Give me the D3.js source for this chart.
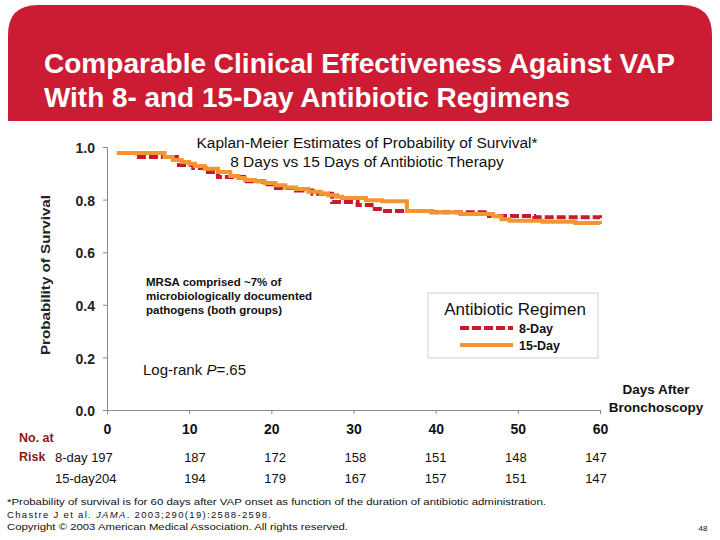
<!DOCTYPE html>
<html><head><meta charset="utf-8">
<script src="https://cdn.jsdelivr.net/npm/d3@7"></script>
<style>body{margin:0;background:#fff}svg{display:block;font-family:"Liberation Sans",Arial,sans-serif}</style>
</head><body><svg id="c" width="720" height="540"></svg>
<script>
// ---- data ----
const titleLines = ["Comparable Clinical Effectiveness Against VAP", "With 8- and 15-Day Antibiotic Regimens"];
const chartTitle = ["Kaplan-Meier Estimates of Probability of Survival*", "8 Days vs 15 Days of Antibiotic Therapy"];
const yTicks = [0, 0.2, 0.4, 0.6, 0.8, 1.0];
const xTicks = [0, 10, 20, 30, 40, 50, 60];
const seriesNames = ["8-Day", "15-Day"];
const days8 =  [1.2, 3.5, 8.5, 10.5, 12, 13.5, 17, 19, 20.2, 23, 25, 27.4, 30.5, 32.2, 33.5, 39.5, 46.5, 52, 60];
const surv8 =  [0.977, 0.962, 0.932, 0.920, 0.905, 0.886, 0.870, 0.858, 0.844, 0.835, 0.822, 0.791, 0.779, 0.764, 0.757, 0.752, 0.738, 0.733, 0.730];
const days15 = [1.2, 7.0, 8.0, 9.1, 10.0, 10.7, 11.9, 13.5, 15.0, 16.0, 16.8, 18.0, 19.2, 20.5, 21.7, 23.0, 24.5, 26.0, 26.9, 28.0, 28.6, 31.5, 33.5, 36.5, 39.5, 43.0, 47.0, 48.0, 49.0, 53, 57, 60];
const surv15 = [0.977, 0.962, 0.951, 0.943, 0.936, 0.928, 0.917, 0.905, 0.890, 0.882, 0.875, 0.870, 0.863, 0.855, 0.846, 0.840, 0.830, 0.823, 0.817, 0.811, 0.806, 0.798, 0.794, 0.757, 0.752, 0.745, 0.737, 0.725, 0.720, 0.716, 0.711, 0.707];
const riskDays = [10, 20, 30, 40, 50, 60];
const risk8 = [197, 187, 172, 158, 151, 148, 147];
const risk15 = [204, 194, 179, 167, 157, 151, 147];
const footnotes = ["*Probability of survival is for 60 days after VAP onset as function of the duration of antibiotic administration.",
  "Chastre J et al. ", "Copyright \u00a9 2003 American Medical Association. All rights reserved."];

const svg = d3.select("#c");
const RED = "#C8192F", ORANGE = "#F39530", HEAD = "#CC1C34";

// header band with rounded top corners
const hx0 = 8, hx1 = 712, hy0 = 5, hy1 = 121, r = 30;
svg.append("path").attr("fill", HEAD)
  .attr("d", `M${hx0},${hy1} L${hx0},${hy0+r} Q${hx0},${hy0} ${hx0+r},${hy0} L${hx1-r},${hy0} Q${hx1},${hy0} ${hx1},${hy0+r} L${hx1},${hy1} Z`);
const tl = [[73, 631], [107, 526]];
titleLines.forEach((t, i) => svg.append("text").attr("x", 44).attr("y", tl[i][0]).attr("fill", "#fff")
  .attr("font-size", 28).attr("font-weight", "bold").attr("textLength", tl[i][1]).attr("lengthAdjust", "spacingAndGlyphs").text(t));

// scales
const x = d3.scaleLinear().domain([0, 60]).range([107, 600]);
const y = d3.scaleLinear().domain([0, 1]).range([410, 147]);

// axes
const ya = svg.append("g").attr("transform", "translate(107,0)")
  .call(d3.axisLeft(y).tickValues(yTicks).tickFormat(d3.format(".1f")).tickSize(4).tickPadding(8));
ya.select(".domain").attr("stroke", "#8a8a8a");
ya.selectAll(".tick line").attr("stroke", "#8a8a8a");
ya.selectAll("text").attr("font-size", 14).attr("font-weight", "bold").attr("fill", "#222").attr("font-family", "Liberation Sans, Arial").attr("dy", "0.4em");
const xa = svg.append("g").attr("transform", "translate(0,410)")
  .call(d3.axisBottom(x).tickValues(xTicks).tickSize(4).tickPadding(10));
xa.select(".domain").attr("stroke", "#8a8a8a");
xa.selectAll(".tick line").attr("stroke", "#8a8a8a");
xa.selectAll("text").attr("font-size", 14).attr("font-weight", "bold").attr("fill", "#111").attr("font-family", "Liberation Sans, Arial");

svg.append("text").attr("transform", "translate(50,275) rotate(-90)").attr("text-anchor", "middle")
  .attr("font-size", 13).attr("font-weight", "bold").attr("fill", "#222")
  .attr("textLength", 160).attr("lengthAdjust", "spacingAndGlyphs").text("Probability of Survival");

// curves
const line = d3.line().x(d => x(d[0])).y(d => y(d[1])).curve(d3.curveStepAfter);
const d8 = days8.map((d, i) => [d, surv8[i]]);
const d15 = days15.map((d, i) => [d, surv15[i]]);
svg.append("path").attr("d", line(d8)).attr("fill", "none").attr("stroke", RED).attr("stroke-width", 4).attr("stroke-dasharray", "9,3");
svg.append("path").attr("d", line(d15)).attr("fill", "none").attr("stroke", ORANGE).attr("stroke-width", 4);

// chart title
chartTitle.forEach((t, i) => svg.append("text").attr("x", 367).attr("y", 148 + i * 19).attr("text-anchor", "middle")
  .attr("font-size", 15.5).attr("fill", "#111").text(t));

// MRSA note
["MRSA comprised ~7% of", "microbiologically documented", "pathogens (both groups)"].forEach((t, i) =>
  svg.append("text").attr("x", 146).attr("y", 286 + i * 14).attr("font-size", 11.5).attr("font-weight", "bold").attr("fill", "#111").text(t));

// log-rank
const lr = svg.append("text").attr("x", 143).attr("y", 375).attr("font-size", 15).attr("fill", "#111");
lr.append("tspan").text("Log-rank ");
lr.append("tspan").attr("font-style", "italic").text("P");
lr.append("tspan").text("=.65");

// legend
svg.append("rect").attr("x", 428).attr("y", 293).attr("width", 170).attr("height", 65).attr("fill", "#fff").attr("stroke", "#cfcfcf");
svg.append("text").attr("x", 515).attr("y", 315).attr("text-anchor", "middle").attr("font-size", 17).attr("fill", "#111").text("Antibiotic Regimen");
[[RED, "9,3"], [ORANGE, null]].forEach((s, i) => {
  const ly = 328 + i * 17;
  const l = svg.append("line").attr("x1", 460).attr("x2", 513).attr("y1", ly).attr("y2", ly).attr("stroke", s[0]).attr("stroke-width", 4);
  if (s[1]) l.attr("stroke-dasharray", s[1]);
  svg.append("text").attr("x", 519).attr("y", ly + 5).attr("font-size", 12.5).attr("font-weight", "bold").attr("fill", "#111").text(seriesNames[i]);
});

// x-axis title
["Days After", "Bronchoscopy"].forEach((t, i) => svg.append("text").attr("x", 656).attr("y", 394 + i * 18).attr("text-anchor", "middle")
  .attr("font-size", 13.5).attr("font-weight", "bold").attr("fill", "#111").text(t));

// number at risk
svg.append("text").attr("x", 19).attr("y", 442).attr("font-size", 12.5).attr("font-weight", "bold").attr("fill", "#8B1A1A").text("No. at");
svg.append("text").attr("x", 19).attr("y", 461).attr("font-size", 12.5).attr("font-weight", "bold").attr("fill", "#8B1A1A").text("Risk");
svg.append("text").attr("x", 55).attr("y", 462).attr("font-size", 13).attr("fill", "#111").text("8-day " + risk8[0]);
svg.append("text").attr("x", 55).attr("y", 483).attr("font-size", 13).attr("fill", "#111").text("15-day" + risk15[0]);
const rx = d3.scaleLinear().domain([10, 60]).range([195, 596]);
riskDays.forEach((d, i) => {
  svg.append("text").attr("x", rx(d)).attr("y", 462).attr("text-anchor", "middle").attr("font-size", 13).attr("fill", "#111").text(risk8[i + 1]);
  svg.append("text").attr("x", rx(d)).attr("y", 483).attr("text-anchor", "middle").attr("font-size", 13).attr("fill", "#111").text(risk15[i + 1]);
});

// footnotes
svg.append("text").attr("x", 7).attr("y", 505).attr("font-size", 9.5).attr("fill", "#111").attr("textLength", 539).attr("lengthAdjust", "spacingAndGlyphs").text(footnotes[0]);
const f2 = svg.append("text").attr("x", 7).attr("y", 518).attr("font-size", 9.5).attr("fill", "#111").attr("textLength", 264).attr("lengthAdjust", "spacing");
f2.append("tspan").text(footnotes[1]);
f2.append("tspan").attr("font-style", "italic").text("JAMA");
f2.append("tspan").text(". 2003;290(19):2588-2598.");
svg.append("text").attr("x", 7).attr("y", 530).attr("font-size", 9.5).attr("fill", "#111").attr("textLength", 341).attr("lengthAdjust", "spacingAndGlyphs").text(footnotes[2]);
svg.append("text").attr("x", 703).attr("y", 531).attr("text-anchor", "middle").attr("font-size", 8).attr("fill", "#111").text("48");
</script></body></html>
